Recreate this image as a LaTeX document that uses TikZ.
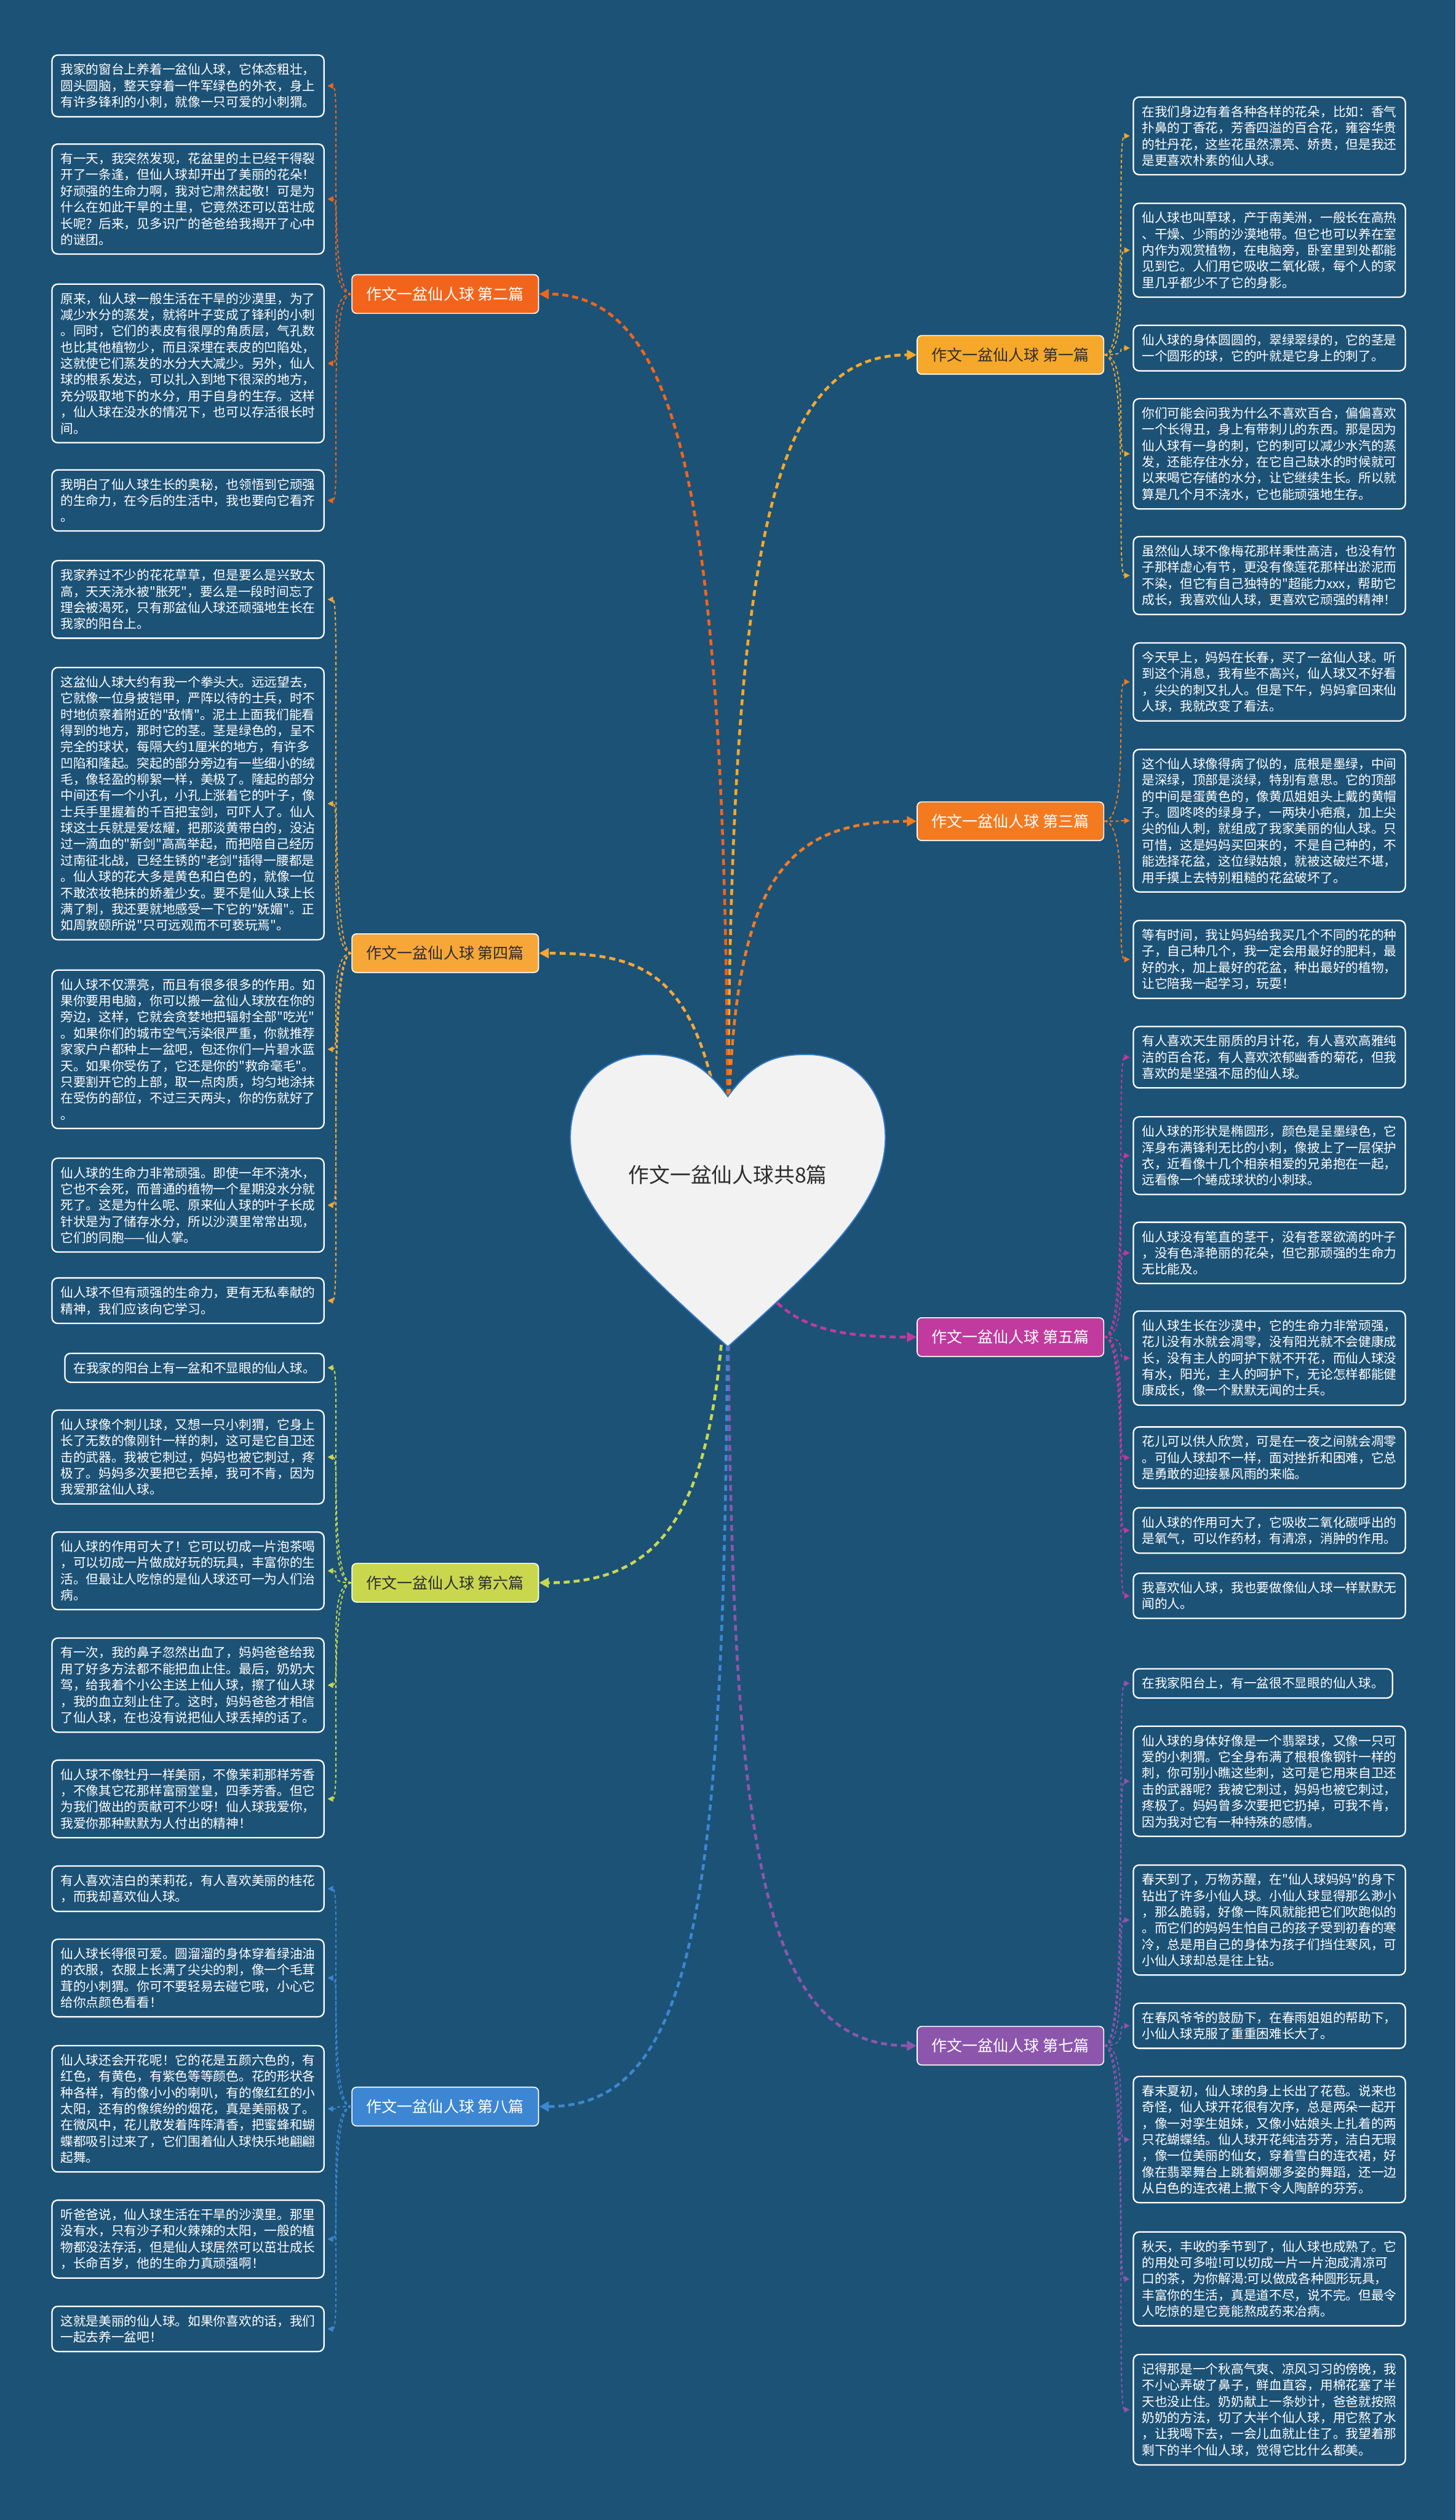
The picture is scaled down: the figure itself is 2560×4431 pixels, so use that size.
\documentclass[tikz,border=0pt]{standalone}
\usepackage{fontspec}
\usetikzlibrary{arrows.meta}
\newfontfamily\cjk{Noto Sans CJK SC}
\definecolor{bgblue}{RGB}{28,82,118}
\definecolor{heartfill}{RGB}{242,242,242}
\definecolor{heartline}{RGB}{52,120,200}
\definecolor{cone}{RGB}{245,168,42}
\definecolor{ctwo}{RGB}{242,100,28}
\definecolor{cthree}{RGB}{244,122,32}
\definecolor{cfour}{RGB}{247,167,56}
\definecolor{cfive}{RGB}{193,58,158}
\definecolor{csix}{RGB}{201,215,79}
\definecolor{cseven}{RGB}{140,86,172}
\definecolor{ceight}{RGB}{61,134,210}
\definecolor{darktxt}{RGB}{45,45,45}
\begin{document}
\begin{tikzpicture}[x=0.01cm,y=-0.01cm,
	every node/.style={font=\cjk},
	leaf/.style={draw=white,line width=0.7pt,rounded corners=0.1cm,text=white,
		inner xsep=0.15cm,inner ysep=0.15cm,align=left,
		font=\cjk\fontsize{6.37}{8.11}\selectfont},
	lft/.style={leaf,text width=4.48cm,anchor=east},
	rgt/.style={leaf,text width=4.48cm,anchor=west},
	branch/.style={draw=white,line width=0.5pt,rounded corners=0.08cm,inner sep=0pt,
		minimum width=3.28cm,minimum height=0.68cm,font=\cjk\fontsize{7.7}{9}\selectfont},
	trunk/.style={line width=1.4pt,dash pattern=on 3pt off 2pt,
		-{Triangle[length=0.17cm,width=0.17cm]}},
	lnk/.style={line width=0.6pt,dash pattern=on 1.6pt off 1.2pt,
		-{Triangle[length=0.1cm,width=0.1cm]},shorten >=0.05cm}]
	\fill[bgblue] (0,0) rectangle (2560,4431);
	\coordinate (root) at (1280,2066);
	% branches
	\node[branch,fill=cone,text=darktxt] (b1) at (1777,624) {作文一盆仙人球 第一篇};
	\node[branch,fill=ctwo,text=white] (b2) at (783,517) {作文一盆仙人球 第二篇};
	\node[branch,fill=cthree,text=white] (b3) at (1777,1444) {作文一盆仙人球 第三篇};
	\node[branch,fill=cfour,text=darktxt] (b4) at (783,1676) {作文一盆仙人球 第四篇};
	\node[branch,fill=cfive,text=white] (b5) at (1777,2351) {作文一盆仙人球 第五篇};
	\node[branch,fill=csix,text=darktxt] (b6) at (783,2783) {作文一盆仙人球 第六篇};
	\node[branch,fill=cseven,text=white] (b7) at (1777,3597) {作文一盆仙人球 第七篇};
	\node[branch,fill=ceight,text=white] (b8) at (783,3704) {作文一盆仙人球 第八篇};
	% left column
	\node[lft] (L2a) at (571,151) {我家的窗台上养着一盆仙人球，它体态粗壮，\\圆头圆脑，整天穿着一件军绿色的外衣，身上\\有许多锋利的小刺，就像一只可爱的小刺猬。};
	\node[lft] (L2b) at (571,350) {有一天，我突然发现，花盆里的土已经干得裂\\开了一条逢，但仙人球却开出了美丽的花朵！\\好顽强的生命力啊，我对它肃然起敬！可是为\\什么在如此干旱的土里，它竟然还可以茁壮成\\长呢？后来，见多识广的爸爸给我揭开了心中\\的谜团。};
	\node[lft] (L2c) at (571,639) {原来，仙人球一般生活在干旱的沙漠里，为了\\减少水分的蒸发，就将叶子变成了锋利的小刺\\。同时，它们的表皮有很厚的角质层，气孔数\\也比其他植物少，而且深埋在表皮的凹陷处，\\这就使它们蒸发的水分大大减少。另外，仙人\\球的根系发达，可以扎入到地下很深的地方，\\充分吸取地下的水分，用于自身的生存。这样\\，仙人球在没水的情况下，也可以存活很长时\\间。};
	\node[lft] (L2d) at (571,880) {我明白了仙人球生长的奥秘，也领悟到它顽强\\的生命力，在今后的生活中，我也要向它看齐\\。};
	\node[lft] (L4a) at (571,1054) {我家养过不少的花花草草，但是要么是兴致太\\高，天天浇水被"胀死"，要么是一段时间忘了\\理会被渴死，只有那盆仙人球还顽强地生长在\\我家的阳台上。};
	\node[lft] (L4b) at (571,1413) {这盆仙人球大约有我一个拳头大。远远望去，\\它就像一位身披铠甲，严阵以待的士兵，时不\\时地侦察着附近的"敌情"。泥土上面我们能看\\得到的地方，那时它的茎。茎是绿色的，呈不\\完全的球状，每隔大约1厘米的地方，有许多\\凹陷和隆起。突起的部分旁边有一些细小的绒\\毛，像轻盈的柳絮一样，美极了。隆起的部分\\中间还有一个小孔，小孔上涨着它的叶子，像\\士兵手里握着的千百把宝剑，可吓人了。仙人\\球这士兵就是爱炫耀，把那淡黄带白的，没沾\\过一滴血的"新剑"高高举起，而把陪自己经历\\过南征北战，已经生锈的"老剑"插得一腰都是\\。仙人球的花大多是黄色和白色的，就像一位\\不敢浓妆艳抹的娇羞少女。要不是仙人球上长\\满了刺，我还要就地感受一下它的"妩媚"。正\\如周敦颐所说"只可远观而不可亵玩焉"。};
	\node[lft] (L4c) at (571,1845) {仙人球不仅漂亮，而且有很多很多的作用。如\\果你要用电脑，你可以搬一盆仙人球放在你的\\旁边，这样，它就会贪婪地把辐射全部"吃光"\\。如果你们的城市空气污染很严重，你就推荐\\家家户户都种上一盆吧，包还你们一片碧水蓝\\天。如果你受伤了，它还是你的"救命毫毛"。\\只要割开它的上部，取一点肉质，均匀地涂抹\\在受伤的部位，不过三天两头，你的伤就好了\\。};
	\node[lft] (L4d) at (571,2119) {仙人球的生命力非常顽强。即使一年不浇水，\\它也不会死，而普通的植物一个星期没水分就\\死了。这是为什么呢、原来仙人球的叶子长成\\针状是为了储存水分，所以沙漠里常常出现，\\它们的同胞——仙人掌。};
	\node[lft] (L4e) at (571,2287) {仙人球不但有顽强的生命力，更有无私奉献的\\精神，我们应该向它学习。};
	\node[leaf,anchor=east] (L6a) at (571,2405) {在我家的阳台上有一盆和不显眼的仙人球。};
	\node[lft] (L6b) at (571,2562) {仙人球像个刺儿球，又想一只小刺猬，它身上\\长了无数的像刚针一样的刺，这可是它自卫还\\击的武器。我被它刺过，妈妈也被它刺过，疼\\极了。妈妈多次要把它丢掉，我可不肯，因为\\我爱那盆仙人球。};
	\node[lft] (L6c) at (571,2762) {仙人球的作用可大了！它可以切成一片泡茶喝\\，可以切成一片做成好玩的玩具，丰富你的生\\活。但最让人吃惊的是仙人球还可一为人们治\\病。};
	\node[lft] (L6d) at (571,2963) {有一次，我的鼻子忽然出血了，妈妈爸爸给我\\用了好多方法都不能把血止住。最后，奶奶大\\驾，给我着个小公主送上仙人球，擦了仙人球\\，我的血立刻止住了。这时，妈妈爸爸才相信\\了仙人球，在也没有说把仙人球丢掉的话了。};
	\node[lft] (L6e) at (571,3163) {仙人球不像牡丹一样美丽，不像茉莉那样芳香\\，不像其它花那样富丽堂皇，四季芳香。但它\\为我们做出的贡献可不少呀！仙人球我爱你，\\我爱你那种默默为人付出的精神！};
	\node[lft] (L8a) at (571,3321) {有人喜欢洁白的茉莉花，有人喜欢美丽的桂花\\，而我却喜欢仙人球。};
	\node[lft] (L8b) at (571,3478) {仙人球长得很可爱。圆溜溜的身体穿着绿油油\\的衣服，衣服上长满了尖尖的刺，像一个毛茸\\茸的小刺猬。你可不要轻易去碰它哦，小心它\\给你点颜色看看！};
	\node[lft] (L8c) at (571,3708) {仙人球还会开花呢！它的花是五颜六色的，有\\红色，有黄色，有紫色等等颜色。花的形状各\\种各样，有的像小小的喇叭，有的像红红的小\\太阳，还有的像缤纷的烟花，真是美丽极了。\\在微风中，花儿散发着阵阵清香，把蜜蜂和蝴\\蝶都吸引过来了，它们围着仙人球快乐地翩翩\\起舞。};
	\node[lft] (L8d) at (571,3937) {听爸爸说，仙人球生活在干旱的沙漠里。那里\\没有水，只有沙子和火辣辣的太阳，一般的植\\物都没法存活，但是仙人球居然可以茁壮成长\\，长命百岁，他的生命力真顽强啊！};
	\node[lft] (L8e) at (571,4095) {这就是美丽的仙人球。如果你喜欢的话，我们\\一起去养一盆吧！};
	% right column
	\node[rgt] (R1a) at (1992,239) {在我们身边有着各种各样的花朵，比如：香气\\扑鼻的丁香花，芳香四溢的百合花，雍容华贵\\的牡丹花，这些花虽然漂亮、娇贵，但是我还\\是更喜欢朴素的仙人球。};
	\node[rgt] (R1b) at (1992,440) {仙人球也叫草球，产于南美洲，一般长在高热\\、干燥、少雨的沙漠地带。但它也可以养在室\\内作为观赏植物，在电脑旁，卧室里到处都能\\见到它。人们用它吸收二氧化碳，每个人的家\\里几乎都少不了它的身影。};
	\node[rgt] (R1c) at (1992,612) {仙人球的身体圆圆的，翠绿翠绿的，它的茎是\\一个圆形的球，它的叶就是它身上的刺了。};
	\node[rgt] (R1d) at (1992,798) {你们可能会问我为什么不喜欢百合，偏偏喜欢\\一个长得丑，身上有带刺儿的东西。那是因为\\仙人球有一身的刺，它的刺可以减少水汽的蒸\\发，还能存住水分，在它自己缺水的时候就可\\以来喝它存储的水分，让它继续生长。所以就\\算是几个月不浇水，它也能顽强地生存。};
	\node[rgt] (R1e) at (1992,1012) {虽然仙人球不像梅花那样秉性高洁，也没有竹\\子那样虚心有节，更没有像莲花那样出淤泥而\\不染，但它有自己独特的"超能力xxx，帮助它\\成长，我喜欢仙人球，更喜欢它顽强的精神！};
	\node[rgt] (R3a) at (1992,1199) {今天早上，妈妈在长春，买了一盆仙人球。听\\到这个消息，我有些不高兴，仙人球又不好看\\，尖尖的刺又扎人。但是下午，妈妈拿回来仙\\人球，我就改变了看法。};
	\node[rgt] (R3b) at (1992,1443) {这个仙人球像得病了似的，底根是墨绿，中间\\是深绿，顶部是淡绿，特别有意思。它的顶部\\的中间是蛋黄色的，像黄瓜姐姐头上戴的黄帽\\子。圆咚咚的绿身子，一两块小疤痕，加上尖\\尖的仙人刺，就组成了我家美丽的仙人球。只\\可惜，这是妈妈买回来的，不是自己种的，不\\能选择花盆，这位绿姑娘，就被这破烂不堪，\\用手摸上去特别粗糙的花盆破坏了。};
	\node[rgt] (R3c) at (1992,1687) {等有时间，我让妈妈给我买几个不同的花的种\\子，自己种几个，我一定会用最好的肥料，最\\好的水，加上最好的花盆，种出最好的植物，\\让它陪我一起学习，玩耍！};
	\node[rgt] (R5a) at (1992,1859) {有人喜欢天生丽质的月计花，有人喜欢高雅纯\\洁的百合花，有人喜欢浓郁幽香的菊花，但我\\喜欢的是坚强不屈的仙人球。};
	\node[rgt] (R5b) at (1992,2032) {仙人球的形状是椭圆形，颜色是呈墨绿色，它\\浑身布满锋利无比的小刺，像披上了一层保护\\衣，近看像十几个相亲相爱的兄弟抱在一起，\\远看像一个蜷成球状的小刺球。};
	\node[rgt] (R5c) at (1992,2203) {仙人球没有笔直的茎干，没有苍翠欲滴的叶子\\，没有色泽艳丽的花朵，但它那顽强的生命力\\无比能及。};
	\node[rgt] (R5d) at (1992,2388) {仙人球生长在沙漠中，它的生命力非常顽强，\\花儿没有水就会凋零，没有阳光就不会健康成\\长，没有主人的呵护下就不开花，而仙人球没\\有水，阳光，主人的呵护下，无论怎样都能健\\康成长，像一个默默无闻的士兵。};
	\node[rgt] (R5e) at (1992,2563) {花儿可以供人欣赏，可是在一夜之间就会凋零\\。可仙人球却不一样，面对挫折和困难，它总\\是勇敢的迎接暴风雨的来临。};
	\node[rgt] (R5f) at (1992,2691) {仙人球的作用可大了，它吸收二氧化碳呼出的\\是氧气，可以作药材，有清凉，消肿的作用。};
	\node[rgt] (R5g) at (1992,2806) {我喜欢仙人球，我也要做像仙人球一样默默无\\闻的人。};
	\node[leaf,anchor=west] (R7a) at (1992,2960) {在我家阳台上，有一盆很不显眼的仙人球。};
	\node[rgt] (R7b) at (1992,3132) {仙人球的身体好像是一个翡翠球，又像一只可\\爱的小刺猬。它全身布满了根根像钢针一样的\\刺，你可别小瞧这些刺，这可是它用来自卫还\\击的武器呢？我被它刺过，妈妈也被它刺过，\\疼极了。妈妈曾多次要把它扔掉，可我不肯，\\因为我对它有一种特殊的感情。};
	\node[rgt] (R7c) at (1992,3376) {春天到了，万物苏醒，在"仙人球妈妈"的身下\\钻出了许多小仙人球。小仙人球显得那么渺小\\，那么脆弱，好像一阵风就能把它们吹跑似的\\。而它们的妈妈生怕自己的孩子受到初春的寒\\冷，总是用自己的身体为孩子们挡住寒风，可\\小仙人球却总是往上钻。};
	\node[rgt] (R7d) at (1992,3562) {在春风爷爷的鼓励下，在春雨姐姐的帮助下，\\小仙人球克服了重重困难长大了。};
	\node[rgt] (R7e) at (1992,3762) {春末夏初，仙人球的身上长出了花苞。说来也\\奇怪，仙人球开花很有次序，总是两朵一起开\\，像一对孪生姐妹，又像小姑娘头上扎着的两\\只花蝴蝶结。仙人球开花纯洁芬芳，洁白无瑕\\，像一位美丽的仙女，穿着雪白的连衣裙，好\\像在翡翠舞台上跳着婀娜多姿的舞蹈，还一边\\从白色的连衣裙上撒下令人陶醉的芬芳。};
	\node[rgt] (R7f) at (1992,4007) {秋天，丰收的季节到了，仙人球也成熟了。它\\的用处可多啦!可以切成一片一片泡成清凉可\\口的茶，为你解渴:可以做成各种圆形玩具，\\丰富你的生活，真是道不尽，说不完。但最令\\人吃惊的是它竟能熬成药来冶病。};
	\node[rgt] (R7g) at (1992,4237) {记得那是一个秋高气爽、凉风习习的傍晚，我\\不小心弄破了鼻子，鲜血直容，用棉花塞了半\\天也没止住。奶奶献上一条妙计，爸爸就按照\\奶奶的方法，切了大半个仙人球，用它熬了水\\，让我喝下去，一会儿血就止住了。我望着那\\剩下的半个仙人球，觉得它比什么都美。};
	% trunks from the heart
	\draw[trunk,cone] (root) .. controls +(0,-1100) and +(-260,0) .. (b1.west);
	\draw[trunk,ctwo] (root) .. controls +(0,-1150) and +(260,0) .. (b2.east);
	\draw[trunk,cthree] (root) .. controls +(0,-500) and +(-250,0) .. (b3.west);
	\draw[trunk,cfour] (root) .. controls +(-40,-350) and +(200,0) .. (b4.east);
	\draw[trunk,cfive] (root) .. controls +(30,250) and +(-200,0) .. (b5.west);
	\draw[trunk,csix] (root) .. controls +(0,550) and +(250,0) .. (b6.east);
	\draw[trunk,cseven] (root) .. controls +(0,1100) and +(-300,0) .. (b7.west);
	\draw[trunk,ceight] (root) .. controls +(0,1200) and +(300,0) .. (b8.east);
	% heart
	\filldraw[fill=heartfill,draw=heartline,line width=0.6pt] (1280,1928)
		.. controls (1235,1866) and (1195,1854) .. (1142,1854)
		.. controls (1058,1854) and (1003,1918) .. (1003,2000)
		.. controls (1003,2115) and (1110,2215) .. (1280,2368)
		.. controls (1450,2215) and (1557,2115) .. (1557,2000)
		.. controls (1557,1918) and (1502,1854) .. (1418,1854)
		.. controls (1365,1854) and (1325,1866) .. (1280,1928) -- cycle;
	\node[text=darktxt,font=\cjk\fontsize{10.4}{12}\selectfont] (title) at (root) {作文一盆仙人球共8篇};
	% links to the leaves
	\foreach \n in {a,b,c,d} \draw[lnk,ctwo] (b2.west) .. controls +(-45,0) and +(30,0) .. (L2\n.east);
	\foreach \n in {a,b,c,d,e} \draw[lnk,cfour] (b4.west) .. controls +(-45,0) and +(30,0) .. (L4\n.east);
	\foreach \n in {a,b,c,d,e} \draw[lnk,csix] (b6.west) .. controls +(-45,0) and +(30,0) .. (L6\n.east);
	\foreach \n in {a,b,c,d,e} \draw[lnk,ceight] (b8.west) .. controls +(-45,0) and +(30,0) .. (L8\n.east);
	\foreach \n in {a,b,c,d,e} \draw[lnk,cone] (b1.east) .. controls +(45,0) and +(-30,0) .. (R1\n.west);
	\foreach \n in {a,b,c} \draw[lnk,cthree] (b3.east) .. controls +(45,0) and +(-30,0) .. (R3\n.west);
	\foreach \n in {a,b,c,d,e,f,g} \draw[lnk,cfive] (b5.east) .. controls +(45,0) and +(-30,0) .. (R5\n.west);
	\foreach \n in {a,b,c,d,e,f,g} \draw[lnk,cseven] (b7.east) .. controls +(45,0) and +(-30,0) .. (R7\n.west);
\end{tikzpicture}
\end{document}
